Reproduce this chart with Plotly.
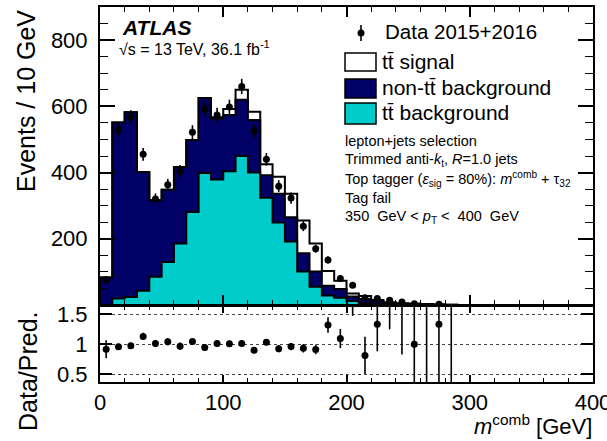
import numpy as np
import plotly.graph_objects as go

# ---- binning: 10 GeV bins of the large-R jet combined mass ----
bin_width = 10
n_bins = 29
bin_edges = np.arange(0, (n_bins + 1) * bin_width, bin_width)
bin_centres = bin_edges[:-1] + bin_width / 2

# ---- predicted yields per bin (events / 10 GeV) ----
ttbar_bkg = [0, 20, 24, 43, 85, 130, 186, 281, 399, 379, 404, 450, 400, 324, 249,
             192, 101, 55, 29, 22, 12, 6, 3, 2, 1, 1, 0.5, 0.3, 0.2]
non_ttbar_bkg = [83, 531, 558, 359, 231, 218, 231, 217, 226, 184, 170, 170, 159, 68, 87,
                 73, 55, 46, 29, 26, 14, 12, 8, 4, 3, 2.5, 2, 1, 0.7]
ttbar_signal = [0, 0, 0, 0, 0, 0, 0, 0, 0, 4, 18, 30, 25, 33, 51,
                71, 99, 85, 45, 25, 9, 9, 4, 2, 1, 0.5, 0.5, 0.2, 0.1]

# ---- observed data ----
data = [76, 529, 567, 455, 320, 363, 404, 522, 592, 574, 598, 660, 526, 440, 359,
        323, 238, 170, 136, 80, 60, 22, 20, 14, 9, 4, 0, 2, 0]
data_err = [9, 20, 21, 19, 17, 18, 19, 21, 22, 22, 22, 23, 21, 19, 18,
            17, 15, 12, 11, 9, 8, 5, 5, 4, 3, 2, 0, 1.5, 0]
ratio_err = [0.15, 0.05, 0.05, 0.06, 0.06, 0.06, 0.06, 0.05, 0.05, 0.05, 0.05, 0.05, 0.05, 0.05, 0.06,
             0.06, 0.07, 0.08, 0.13, 0.16, 0.24, 0.31, 0.45, 0.5, 0.97, 1.0, 2.0, 1.2, 2.0]

# ---- axis ticks ----
main_y_ticks = [200, 400, 600, 800]
ratio_y_ticks = [0.5, 1, 1.5]
ratio_y_labels = ["0.5", "1", "1.5"]
x_ticks = [0, 100, 200, 300, 400]

NAVY = "#000066"
CYAN = "#00cccc"
FONT = "Liberation Sans, Arial, Helvetica, sans-serif"

cyan_top = np.array(ttbar_bkg, dtype=float)
navy_top = cyan_top + np.array(non_ttbar_bkg, dtype=float)
total = navy_top + np.array(ttbar_signal, dtype=float)
data_arr = np.array(data, dtype=float)
ratio = data_arr / total


def step_xy(values):
    """Outline of a ROOT-style histogram: closed step from y=0 to y=0."""
    xs = np.concatenate([[bin_edges[0]], bin_edges])
    ys = np.concatenate([[0.0], values, [0.0]])
    return xs, ys


fig = go.Figure()

# stacked histograms: total (signal on top), then non-ttbar, then ttbar background
for vals, colour in [(total, "white"), (navy_top, NAVY), (cyan_top, CYAN)]:
    xs, ys = step_xy(vals)
    fig.add_trace(go.Scatter(
        x=xs, y=ys, mode="lines", line=dict(shape="hv", color="black", width=2),
        fill="tozeroy", fillcolor=colour, hoverinfo="skip", showlegend=False,
        xaxis="x", yaxis="y"))

# data points in the main panel (empty bins are not drawn)
mask = data_arr > 0
fig.add_trace(go.Scatter(
    x=bin_centres[mask], y=data_arr[mask], mode="markers",
    marker=dict(color="black", size=7),
    error_y=dict(type="data", array=np.array(data_err)[mask], color="black",
                 thickness=1.6, width=0),
    showlegend=False, xaxis="x", yaxis="y"))

# ratio panel
fig.add_trace(go.Scatter(
    x=bin_centres, y=ratio, mode="markers",
    marker=dict(color="black", size=7),
    error_y=dict(type="data", array=ratio_err, color="black", thickness=1.6, width=0),
    showlegend=False, xaxis="x2", yaxis="y2"))

# ---- page geometry (pixel helpers for legend / labels) ----
W, H = 607, 441
L, R, T, B = 100, 14, 7, 59
plot_w = W - L - R
plot_h = H - T - B


def fx(px):
    return (px - L) / plot_w


def fy(py):
    return (H - B - py) / plot_h


main_bottom_px = 305
ratio_top_px = 306

frame = dict(showline=True, linecolor="black", linewidth=2, mirror="allticks",
             ticks="inside", tickcolor="black", showgrid=False, zeroline=False,
             automargin=False)

fig.update_layout(
    width=W, height=H,
    margin=dict(l=L, r=R, t=T, b=B, autoexpand=False),
    paper_bgcolor="white", plot_bgcolor="white",
    font=dict(family=FONT, color="black"),
    xaxis=dict(domain=[0, 1], range=[0, 400], anchor="y", showticklabels=False,
               tickvals=x_ticks, ticklen=10, tickwidth=1.5,
               minor=dict(ticks="inside", ticklen=5, dtick=20, tickcolor="black", tickwidth=1.2),
               **frame),
    yaxis=dict(domain=[fy(main_bottom_px), 1], range=[0, 900], anchor="x",
               tickvals=main_y_ticks, ticklen=15, tickwidth=1.5,
               tickfont=dict(size=22), ticklabelstandoff=6,
               minor=dict(ticks="inside", ticklen=8, dtick=50, tickcolor="black", tickwidth=1.2),
               **frame),
    xaxis2=dict(domain=[0, 1], range=[0, 400], anchor="y2",
                tickvals=x_ticks, ticklen=7, tickwidth=1.5,
                tickfont=dict(size=22), ticklabelstandoff=0, ticklabeloverflow="allow",
                minor=dict(ticks="inside", ticklen=4, dtick=20, tickcolor="black", tickwidth=1.2),
                **frame),
    yaxis2=dict(domain=[0, fy(ratio_top_px)], range=[0.372, 1.638], anchor="x2",
                tickvals=ratio_y_ticks, ticktext=ratio_y_labels, ticklen=12, tickwidth=1.5,
                tickfont=dict(size=22), ticklabelstandoff=6,
                showline=True, linecolor="black", linewidth=2, mirror="allticks",
                ticks="inside", tickcolor="black", zeroline=False, automargin=False,
                showgrid=True, gridcolor="#444444", gridwidth=1, griddash="dot"),
)

annotations = []


def text(px, py, s, size, xanchor="left", yanchor="middle", angle=0):
    annotations.append(dict(
        x=fx(px), y=fy(py), xref="paper", yref="paper", text=s, showarrow=False,
        xanchor=xanchor, yanchor=yanchor, textangle=angle,
        font=dict(family=FONT, size=size, color="black")))


# axis titles
text(26, 8, "Events / 10 GeV", 25, xanchor="center", yanchor="top", angle=-90)
text(28, 371, "Data/Pred.", 25, xanchor="center", yanchor="middle", angle=-90)
text(594, 425, "<i>m</i><sup>comb</sup> [GeV]", 22, xanchor="right")

# experiment label
text(120, 27, "<b><i>ATLAS</i></b>", 21)
text(117, 48, "\u221as = 13 TeV, 36.1 fb<sup>-1</sup>", 16)

# legend
tt = "t" + "t\u0304"
text(383, 32, "Data 2015+2016", 20.5)
text(380, 62, tt + " signal", 21)
text(380, 87, "non-" + tt + " background", 21)
text(380, 112, tt + " background", 21)

# selection description
nb = "\u00a0"
lines = [
    "lepton+jets selection",
    "Trimmed anti-<i>k</i><sub>t</sub>, <i>R</i>=1.0 jets",
    "Top tagger (<i>\u03b5</i><sub>sig</sub> = 80%): <i>m</i><sup>comb</sup> + \u03c4<sub>32</sub>",
    "Tag fail",
    "350" + nb + nb + "GeV < <i>p</i><sub>T</sub> <" + nb + nb + "400" + nb + nb + "GeV",
]
for i, s in enumerate(lines):
    text(343, 141 + 19 * i, s, 14.5)

fig.update_layout(annotations=annotations)

shapes = []
# legend boxes
for (y0, y1, colour) in [(53, 71, "white"), (79, 98, NAVY), (103, 124, CYAN)]:
    shapes.append(dict(type="rect", xref="paper", yref="paper",
                       x0=fx(345), x1=fx(376), y0=fy(y1), y1=fy(y0),
                       fillcolor=colour, line=dict(color="black", width=1.5)))
# legend data marker
shapes.append(dict(type="line", xref="paper", yref="paper",
                   x0=fx(361), x1=fx(361), y0=fy(41), y1=fy(25),
                   line=dict(color="black", width=1.6)))
shapes.append(dict(type="circle", xref="paper", yref="paper",
                   x0=fx(357.5), x1=fx(364.5), y0=fy(36.5), y1=fy(29.5),
                   fillcolor="black", line=dict(color="black", width=0)))
fig.update_layout(shapes=shapes)

fig.write_html("out.html")
